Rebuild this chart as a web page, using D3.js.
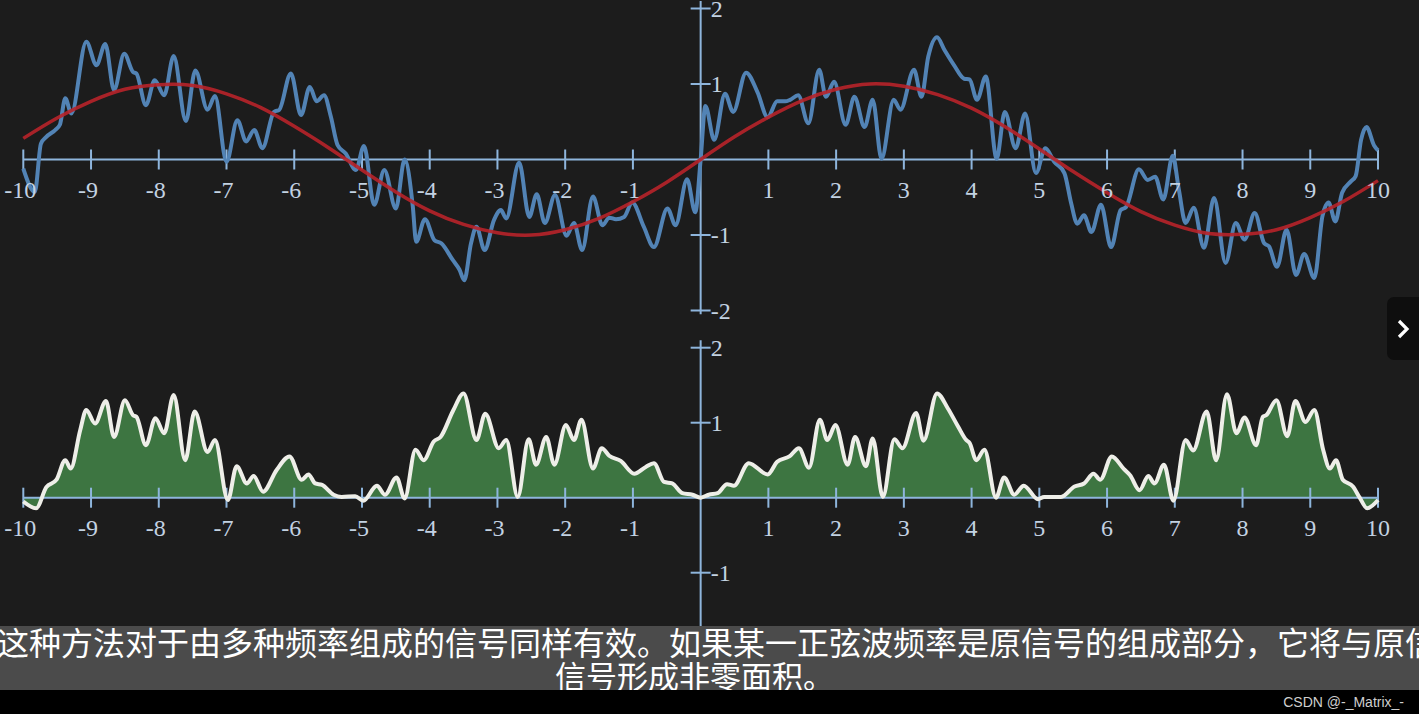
<!DOCTYPE html>
<html>
<head>
<meta charset="utf-8">
<script src="https://cdn.jsdelivr.net/npm/d3@7"></script>
<style>
html, body { margin:0; padding:0; background:#1c1c1c; overflow:hidden; }
svg { display:block; }
</style>
</head>
<body>
<svg id="chart" width="1419" height="714"></svg>
<script>
//tick labels
var xTicks = [-10,-9,-8,-7,-6,-5,-4,-3,-2,-1,1,2,3,4,5,6,7,8,9,10];
var topYTicks = [2,1,-1,-2];
var bottomYTicks = [2,1,-1];

//the mixed signal (blue)
var signalX = [-10,-9.83,-9.74,-9.66,-9.53,-9.46,-9.38,-9.29,-9.07,-8.92,-8.79,-8.66,-8.51,-8.38,-8.33,-8.19,-8.06,-7.92,-7.78,-7.6,-7.46,-7.28,-7.17,-7,
	-6.84,-6.71,-6.59,-6.47,-6.3,-6.22,-6.05,-5.9,-5.77,-5.67,-5.56,-5.46,-5.36,-5.24,-5.09,-4.97,-4.82,-4.67,-4.5,-4.37,-4.25,-4.2,-4.07,-3.93,-3.83,
	-3.66,-3.56,-3.49,-3.39,-3.31,-3.19,-3.05,-2.95,-2.87,-2.68,-2.53,-2.42,-2.3,-2.15,-1.98,-1.87,-1.75,-1.59,-1.45,-1.35,-1.25,-1.13,-1.01,-0.84,
	-0.69,-0.49,-0.37,-0.2,-0.08,0,0.07,0.2,0.36,0.48,0.67,0.84,0.99,1.13,1.25,1.32,1.44,1.59,1.75,1.85,1.97,2.14,2.27,2.42,2.54,2.67,2.85,2.95,
	3.15,3.26,3.36,3.49,3.6,3.74,3.89,3.97,4.08,4.21,4.37,4.49,4.65,4.79,4.95,5.09,5.22,5.37,5.47,5.56,5.66,5.77,5.91,6.06,6.2,6.28,6.47,6.6,6.71,
	6.83,6.97,7.06,7.16,7.28,7.43,7.58,7.75,7.9,8.03,8.18,8.32,8.39,8.51,8.65,8.79,8.91,9.06,9.18,9.27,9.37,9.47,9.6,9.67,9.75,9.83,9.94,10];
var signalY = [-0.12,-0.43,0.21,0.3,0.39,0.46,0.81,0.61,1.56,1.25,1.53,0.92,1.4,1.16,1.14,0.72,1.05,0.85,1.37,0.51,1.18,0.66,0.84,-0.03,
	0.52,0.24,0.39,0.15,0.63,0.66,1.14,0.59,0.96,0.77,0.85,0.57,0.19,0.08,-0.14,0.18,-0.6,-0.14,-0.65,0,-0.62,-1.09,-0.79,-1.07,-1.11,
	-1.33,-1.46,-1.6,-1.11,-0.89,-1.2,-0.8,-0.67,-0.78,-0.04,-0.76,-0.46,-0.84,-0.47,-1.01,-0.84,-1.2,-0.49,-0.87,-0.77,-0.79,-0.76,-0.57,-0.89,
	-1.16,-0.65,-0.87,-0.26,-0.7,0,0.71,0.26,0.87,0.63,1.15,0.89,0.56,0.77,0.77,0.79,0.85,0.48,1.19,0.83,1.03,0.46,0.83,0.43,0.79,0.01,0.79,0.66,
	1.19,0.83,1.36,1.62,1.45,1.25,1.07,1.06,0.79,1.1,0.01,0.63,0.15,0.61,-0.18,0.15,-0.03,-0.18,-0.58,-0.85,-0.74,-0.96,-0.6,-1.16,-0.67,-0.63,-0.13,-0.27,-0.23,
	-0.53,0.05,-0.4,-0.84,-0.64,-1.17,-0.51,-1.37,-0.84,-1.06,-0.71,-1.11,-1.15,-1.42,-0.93,-1.53,-1.25,-1.57,-0.75,-0.57,-0.82,-0.44,-0.29,-0.22,0.26,0.43,0.19,0.12];

//the test sine (red)
var waveX = [-10,-9.5,-9,-8.5,-8,-7.5,-7,-6.5,-6,-5.5,-5,-4.5,-4,-3.5,-3,-2.5,-2,-1.5,-1,-0.5,0,
	0.5,1,1.5,2,2.5,3,3.5,4,4.5,5,5.5,6,6.5,7,7.5,8,8.5,9,9.5,10];
var waveY = [0.28,0.55,0.77,0.93,0.99,0.98,0.87,0.69,0.44,0.16,-0.14,-0.43,-0.68,-0.86,-0.97,-1,-0.93,-0.78,-0.56,-0.3,0,
	0.3,0.56,0.78,0.93,1,0.97,0.86,0.68,0.43,0.14,-0.16,-0.44,-0.69,-0.87,-0.98,-0.99,-0.93,-0.77,-0.55,-0.28];

//signal times sine (bottom plot)
var productX = [-10,-9.81,-9.66,-9.51,-9.38,-9.3,-9.16,-9.07,-8.94,-8.78,-8.66,-8.5,-8.38,-8.33,-8.19,-8.05,-7.92,-7.78,-7.61,-7.47,-7.28,-7.17,-6.98,
	-6.85,-6.7,-6.6,-6.46,-6.26,-6.07,-5.89,-5.79,-5.69,-5.59,-5.42,-5.3,-5.1,-4.98,-4.78,-4.66,-4.49,-4.37,-4.21,-4.09,-3.94,-3.84,-3.65,-3.5,
	-3.31,-3.18,-2.98,-2.87,-2.7,-2.54,-2.43,-2.28,-2.16,-1.99,-1.87,-1.76,-1.59,-1.46,-1.35,-1.18,-0.98,-0.81,-0.69,-0.54,-0.42,-0.27,-0.12,0,
	0.12,0.25,0.39,0.49,0.71,0.99,1.13,1.31,1.45,1.6,1.76,1.87,1.99,2.17,2.28,2.44,2.54,2.69,2.86,2.98,3.18,3.29,3.49,3.65,3.8,3.92,3.97,4.07,
	4.19,4.36,4.48,4.63,4.77,4.98,5.07,5.32,5.52,5.66,5.8,5.9,6.07,6.25,6.34,6.48,6.61,6.7,6.84,6.98,7.16,7.27,7.47,7.61,7.77,7.91,8.03,8.2,
	8.3,8.35,8.5,8.66,8.78,8.93,9.06,9.19,9.29,9.38,9.48,9.63,9.73,9.84,10];
var productY = [-0.05,-0.14,0.14,0.24,0.5,0.39,0.9,1.17,0.99,1.29,0.81,1.3,1.1,1.08,0.7,1.06,0.86,1.37,0.5,1.15,0.61,0.77,-0.03,
	0.42,0.19,0.29,0.08,0.37,0.55,0.24,0.31,0.19,0.17,0.04,0.01,0.02,-0.04,0.16,0.04,0.27,-0.01,0.64,0.5,0.75,0.81,1.17,1.39,
	0.77,1.12,0.66,0.77,0.01,0.78,0.44,0.81,0.44,0.97,0.77,1.04,0.39,0.66,0.56,0.49,0.32,0.41,0.46,0.21,0.19,0.06,0.04,0,
	0.04,0.06,0.18,0.16,0.46,0.31,0.48,0.55,0.66,0.4,1.04,0.77,0.97,0.44,0.81,0.42,0.79,0.01,0.78,0.66,1.13,0.76,1.39,1.19,0.95,0.77,0.73,0.5,
	0.64,0,0.27,0.04,0.16,-0.02,0.01,0.01,0.15,0.19,0.32,0.24,0.55,0.38,0.3,0.1,0.29,0.19,0.44,-0.04,0.77,0.63,1.15,0.5,1.38,0.86,1.07,0.7,
	1.08,1.1,1.3,0.82,1.29,1.01,1.17,0.64,0.39,0.5,0.24,0.15,0,-0.14,-0.03];

var svg = d3.select('#chart');

svg.append('rect')
	.attr('width',1419)
	.attr('height',714)
	.attr('fill','#1c1c1c');

var x = d3.scaleLinear().domain([-10,10]).range([23.3,1378]);
var yTop = d3.scaleLinear().domain([-2,2]).range([310.5,8.5]);
var yBot = d3.scaleLinear().domain([-2,2]).range([647.7,347.7]);

var axisCol = '#8eb5dc';
var labelCol = '#c3d2e2';

function drawAxes(g, y, yTicks, yMin, yMax){
	g.append('line')
		.attr('x1',x(-10)).attr('x2',x(10))
		.attr('y1',y(0)).attr('y2',y(0))
		.attr('stroke',axisCol).attr('stroke-width',2);
	g.append('line')
		.attr('x1',x(0)).attr('x2',x(0))
		.attr('y1',y(yMax)).attr('y2',y(yMin))
		.attr('stroke',axisCol).attr('stroke-width',2);

	g.selectAll('.xtick').data(xTicks).enter()
		.append('line')
		.attr('x1',function(d){ return x(d)}).attr('x2',function(d){ return x(d)})
		.attr('y1',y(0)-10).attr('y2',y(0)+10)
		.attr('stroke',axisCol).attr('stroke-width',2);

	g.selectAll('.ytick').data(yTicks).enter()
		.append('line')
		.attr('x1',x(0)-10).attr('x2',x(0)+10)
		.attr('y1',function(d){ return y(d)}).attr('y2',function(d){ return y(d)})
		.attr('stroke',axisCol).attr('stroke-width',2);
}

function drawLabels(g, y, yTicks){
	g.selectAll('.xlabel').data(xTicks).enter()
		.append('text')
		.style('text-anchor','middle')
		.style('font-family','"Liberation Serif", serif')
		.style('font-size','24px')
		.attr('fill',labelCol)
		.attr('x',function(d){ return x(d) - (d < 0 ? 3 : 0)})
		.attr('y',y(0)+38)
		.text(function(d){ return d});

	g.selectAll('.ylabel').data(yTicks).enter()
		.append('text')
		.style('font-family','"Liberation Serif", serif')
		.style('font-size','24px')
		.attr('fill',labelCol)
		.attr('x',x(0)+10)
		.attr('y',function(d){ return y(d)+8})
		.text(function(d){ return d});
}

//top plot
var topPlot = svg.append('g');
drawAxes(topPlot, yTop, topYTicks, -2.05, 2.1);

var signalLine = d3.line()
	.x(function(d){ return x(signalX[d])})
	.y(function(d){ return yTop(signalY[d])})
	.curve(d3.curveMonotoneX);

var waveLine = d3.line()
	.x(function(d){ return x(waveX[d])})
	.y(function(d){ return yTop(waveY[d])})
	.curve(d3.curveNatural);

topPlot.append('path')
	.attr('d',signalLine(d3.range(signalX.length)))
	.attr('fill','none')
	.attr('stroke','#5283b5')
	.attr('stroke-width',4)
	.attr('stroke-linejoin','round');

topPlot.append('path')
	.attr('d',waveLine(d3.range(waveX.length)))
	.attr('fill','none')
	.attr('stroke','#b8232a')
	.attr('stroke-opacity',0.9)
	.attr('stroke-width',3.5);

drawLabels(topPlot, yTop, topYTicks);

//bottom plot
var bottomPlot = svg.append('g');

var productArea = d3.area()
	.x(function(d){ return x(productX[d])})
	.y0(yBot(0))
	.y1(function(d){ return yBot(productY[d])})
	.curve(d3.curveMonotoneX);

var productLine = d3.line()
	.x(function(d){ return x(productX[d])})
	.y(function(d){ return yBot(productY[d])})
	.curve(d3.curveMonotoneX);

bottomPlot.append('path')
	.attr('d',productArea(d3.range(productX.length)))
	.attr('fill','#3d7541');

drawAxes(bottomPlot, yBot, bottomYTicks, -2.05, 2.1);

bottomPlot.append('path')
	.attr('d',productLine(d3.range(productX.length)))
	.attr('fill','none')
	.attr('stroke','#eeeee8')
	.attr('stroke-width',4)
	.attr('stroke-linejoin','round');

drawLabels(bottomPlot, yBot, bottomYTicks);

//subtitle band
svg.append('rect')
	.attr('x',0).attr('y',626)
	.attr('width',1419).attr('height',64)
	.attr('fill','#4b4b4b');

svg.append('text')
	.attr('x',-3).attr('y',655)
	.style('font-family','"Noto Sans CJK SC", sans-serif')
	.style('font-size','32px')
	.attr('fill','#ffffff')
	.text('这种方法对于由多种频率组成的信号同样有效。如果某一正弦波频率是原信号的组成部分，它将与原信');

svg.append('text')
	.attr('x',555).attr('y',688)
	.style('font-family','"Noto Sans CJK SC", sans-serif')
	.style('font-size','31px')
	.attr('fill','#ffffff')
	.text('信号形成非零面积。');

svg.append('rect')
	.attr('x',0).attr('y',690)
	.attr('width',1419).attr('height',24)
	.attr('fill','#000000');

svg.append('text')
	.attr('x',1404).attr('y',707)
	.style('text-anchor','end')
	.style('font-family','"Liberation Sans", sans-serif')
	.style('font-size','14px')
	.attr('fill','#cfcfcf')
	.text('CSDN @-_Matrix_-');

//side button
svg.append('rect')
	.attr('x',1387).attr('y',297)
	.attr('width',44).attr('height',63)
	.attr('rx',7)
	.attr('fill','#0e0e0e');

svg.append('path')
	.attr('d','M1399,321 L1407,329 L1399,337')
	.attr('fill','none')
	.attr('stroke','#ffffff')
	.attr('stroke-width',3.2);
</script>
</body>
</html>
